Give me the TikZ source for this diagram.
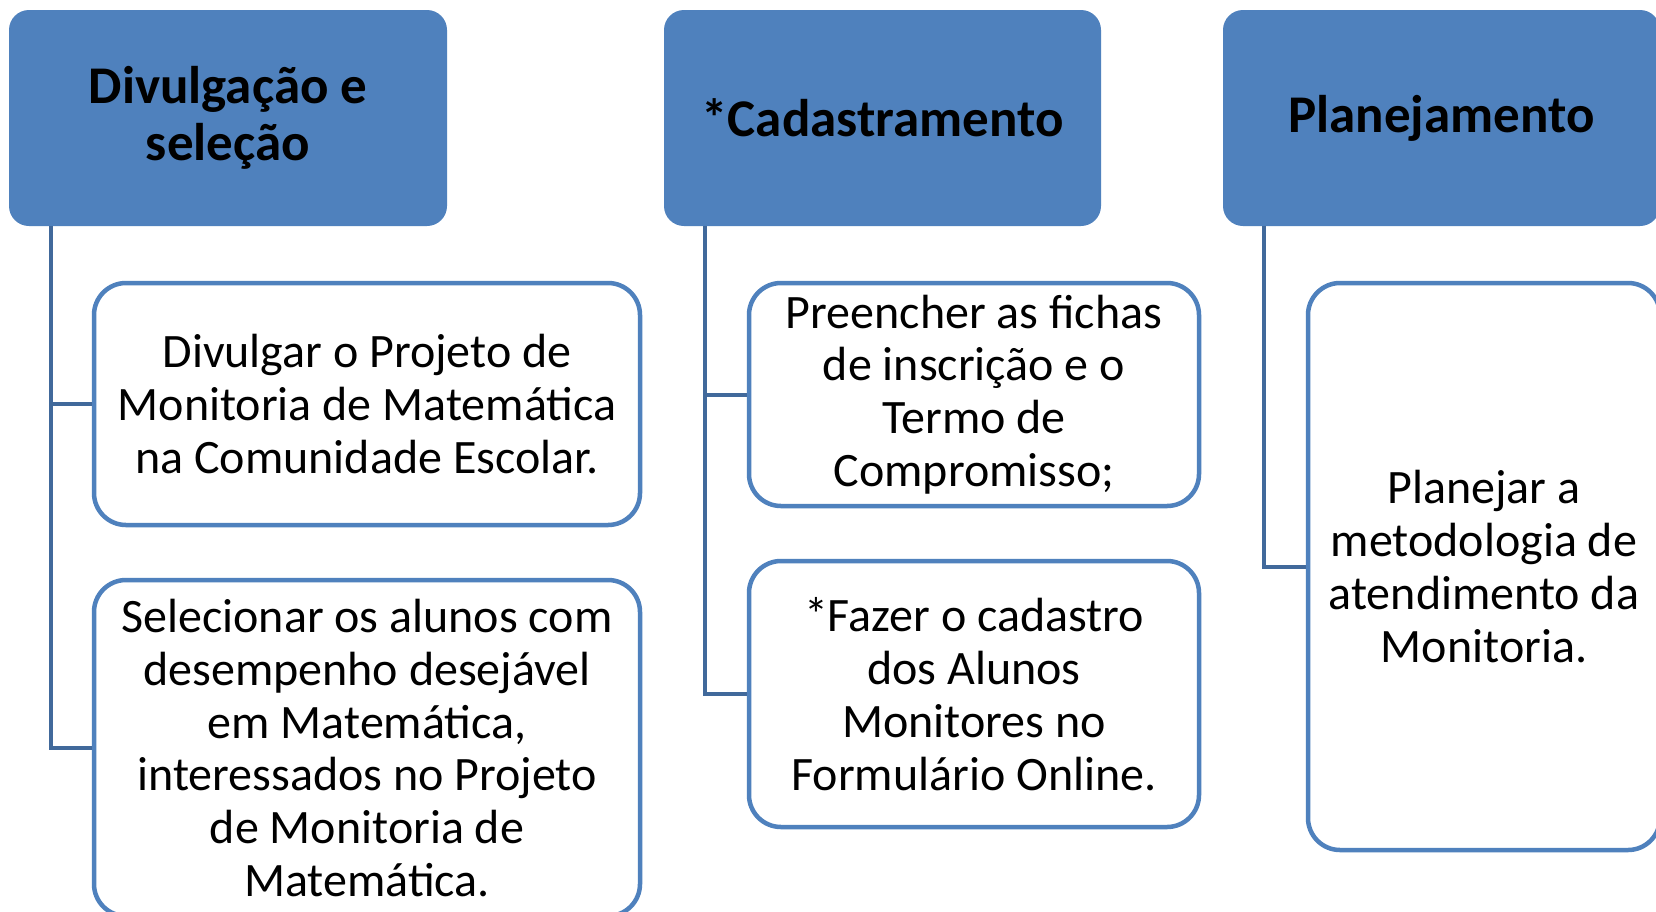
\documentclass[tikz,border=0pt]{standalone}
\usepackage{fontspec}
\setmainfont{Carlito}
\definecolor{hdrblue}{HTML}{4F81BD}
\definecolor{lineblue}{HTML}{41699B}
\begin{document}
\begin{tikzpicture}[x=1pt,y=-1pt,
  hdr/.style={draw=none, fill=hdrblue, rounded corners=20pt, inner sep=0pt,
    align=center, font=\fontsize{53}{57}\selectfont\bfseries, text=black},
  child/.style={draw=hdrblue, line width=4.5pt, fill=white, rounded corners=32pt, inner sep=0pt,
    align=center, font=\fontsize{48}{52.8}\selectfont, text=black},
  conn/.style={draw=lineblue, line width=4pt}]
\useasboundingbox (0,0) rectangle (1656,911);
\clip (0,0) rectangle (1656,911);
\fill[white] (0,0) rectangle (1656,911);

\node[hdr, minimum width=438pt, minimum height=216pt] (h1) at (228,118) {Divulgação e\\seleção};
\node[hdr, minimum width=437pt, minimum height=216pt] (h2) at (882.5,118) {*Cadastramento};
\node[hdr, minimum width=437pt, minimum height=216pt] (h3) at (1441.5,118) {Planejamento};

\node[child, minimum width=546pt, minimum height=242pt] (c1) at (367,404)
  {Divulgar o Projeto de\\Monitoria de Matemática\\na Comunidade Escolar.};
\node[child, minimum width=546pt, minimum height=336pt] (c2) at (367,748)
  {Selecionar os alunos com\\desempenho desejável\\em Matemática,\\interessados no Projeto\\de Monitoria de\\Matemática.};
\node[child, minimum width=450pt, minimum height=223pt] (c3) at (974,394.5)
  {Preencher as fichas\\de inscrição e o\\Termo de\\Compromisso;};
\node[child, minimum width=450pt, minimum height=266pt] (c4) at (974,694)
  {*Fazer o cadastro\\dos Alunos\\Monitores no\\Formulário Online.};
\node[child, minimum width=352pt, minimum height=567pt] (c5) at (1484,566.5)
  {Planejar a\\metodologia de\\atendimento da\\Monitoria.};

\draw[conn] ([xshift=42pt]h1.south west) |- (c1.west);
\draw[conn] ([xshift=42pt]h1.south west) |- (c2.west);
\draw[conn] ([xshift=41pt]h2.south west) |- (c3.west);
\draw[conn] ([xshift=41pt]h2.south west) |- (c4.west);
\draw[conn] ([xshift=41pt]h3.south west) |- (c5.west);
\end{tikzpicture}
\end{document}
